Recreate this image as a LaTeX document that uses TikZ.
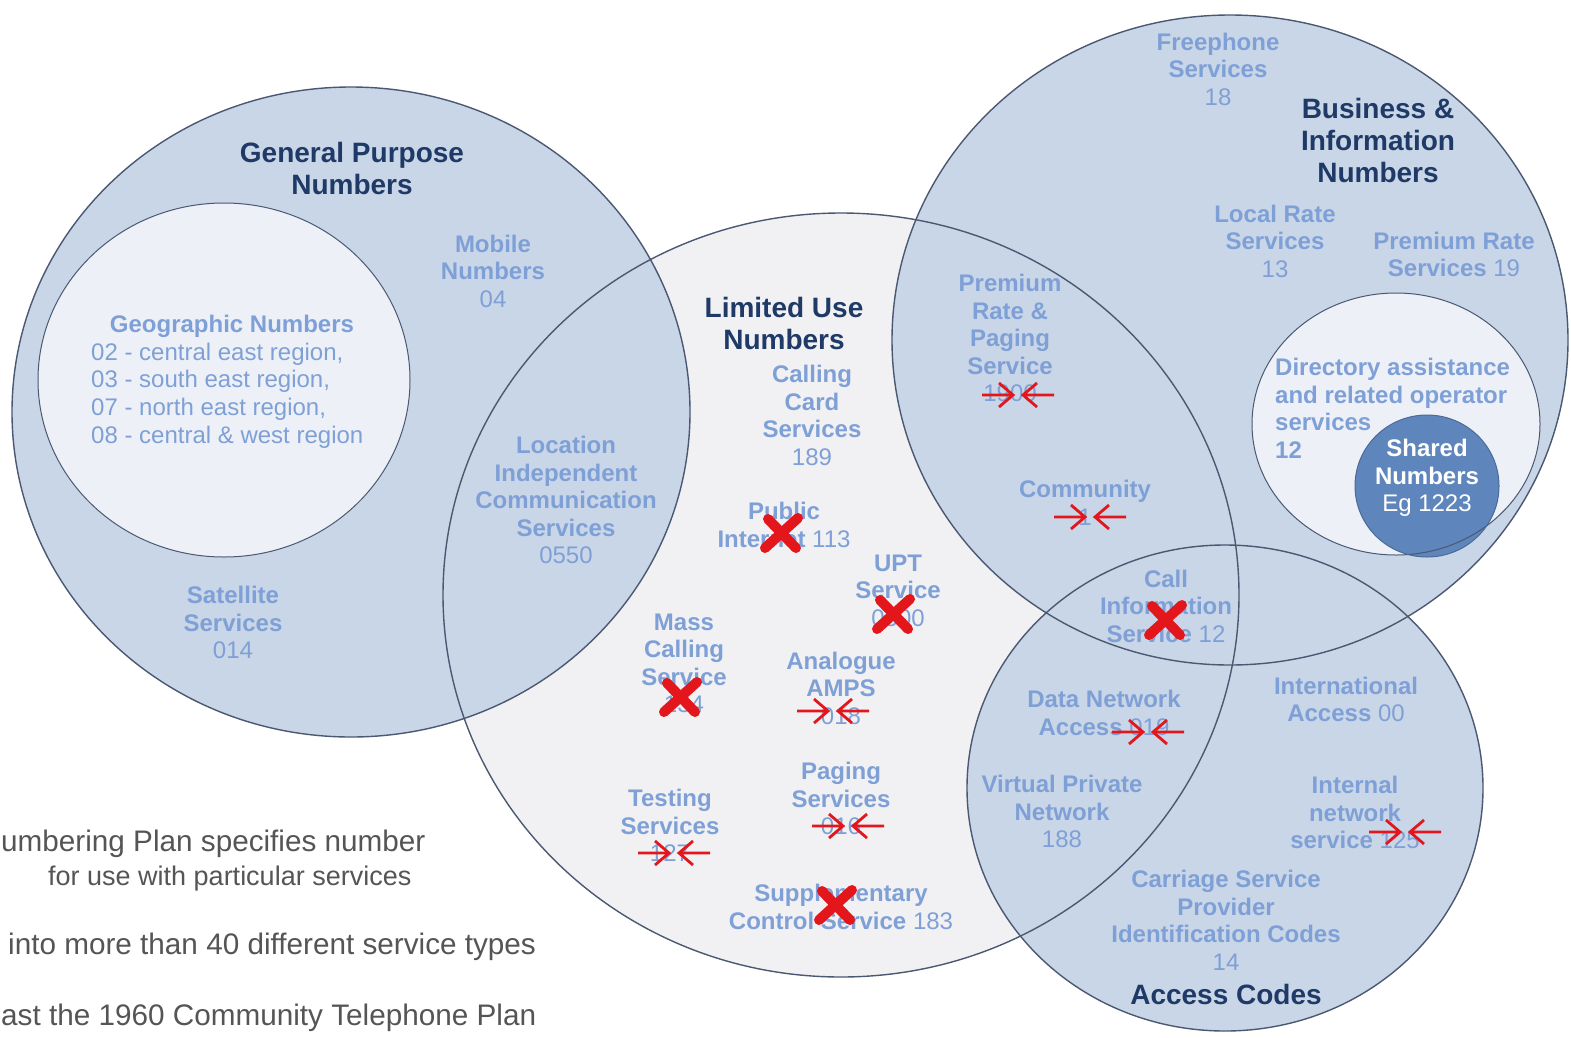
\documentclass[tikz,border=0pt]{standalone}
\usepackage{fontspec}
\setmainfont{Liberation Sans}
\usetikzlibrary{shapes.geometric}
\definecolor{cfill}{HTML}{C9D6E7}
\definecolor{lfill}{HTML}{F1F1F3}
\definecolor{ifill}{HTML}{EDF1F7}
\definecolor{sfill}{HTML}{5E85BC}
\definecolor{edgec}{HTML}{4A5872}
\definecolor{lblc}{HTML}{7EA0D6}
\definecolor{ttlc}{HTML}{1F3A66}
\definecolor{gtxt}{HTML}{555555}
\definecolor{redmk}{HTML}{E3161C}
\tikzset{
  venn/.style={ellipse, inner sep=0pt, outer sep=0pt},
  vline/.style={venn, draw=edgec, line width=1.4pt},
  lab/.style={text=lblc, font=\bfseries\fontsize{24}{27.5}\selectfont, align=center, inner sep=0pt},
  labreg/.style={text=lblc, font=\mdseries\fontsize{24}{27.7}\selectfont, align=left, inner sep=0pt},
  ttl/.style={text=ttlc, font=\bfseries\fontsize{28}{32}\selectfont, align=center, inner sep=0pt},
  note/.style={text=gtxt, font=\fontsize{29.7}{36}\selectfont, anchor=base west, inner sep=0pt},
  redx/.pic={\draw[redmk, line width=10pt, line cap=round] (-16,15) -- (17,-15) (-13,-14) -- (15,15);},
  conv/.pic={
    \draw[redmk, line width=2.8pt, line join=miter] (-36,0) -- (-5,0) (-19,-12) -- (-5,0) -- (-19,12);
    \draw[redmk, line width=2.8pt, line join=miter] (36,0) -- (5,0) (19,-12) -- (5,0) -- (19,12);
  }
}
\begin{document}
\begin{tikzpicture}[x=1pt,y=-1pt]
\useasboundingbox (0,0) rectangle (1571,1037);
\fill[white] (0,0) rectangle (1571,1037);
% fills
\node[venn, fill=lfill, minimum width=796pt, minimum height=764pt] (lu) at (841,595) {};
\node[venn, fill=cfill, minimum width=678pt, minimum height=650pt] (gp) at (351,412) {};
\node[venn, fill=cfill, minimum width=676pt, minimum height=650pt] (bi) at (1230,340) {};
\node[venn, fill=cfill, minimum width=516pt, minimum height=486pt] (ac) at (1225,788) {};
\node[venn, fill=ifill, minimum width=372pt, minimum height=354pt] (geo) at (224,380) {};
\node[venn, fill=ifill, minimum width=288pt, minimum height=262pt] (dir) at (1396,424) {};
\node[venn, fill=sfill, minimum width=144pt, minimum height=142pt] (sh) at (1427,486) {};
% outlines
\node[vline, minimum width=796pt, minimum height=764pt] (luo) at (lu.center) {};
\node[vline, minimum width=678pt, minimum height=650pt] (gpo) at (gp.center) {};
\node[vline, minimum width=676pt, minimum height=650pt] (bio) at (bi.center) {};
\node[vline, minimum width=516pt, minimum height=486pt] (aco) at (ac.center) {};
\node[vline, line width=1pt, minimum width=372pt, minimum height=354pt] (geoo) at (geo.center) {};
\node[vline, line width=1pt, minimum width=288pt, minimum height=262pt] (diro) at (dir.center) {};
\node[vline, line width=1pt, draw=sfill!80!black, minimum width=144pt, minimum height=142pt] (sho) at (sh.center) {};
% titles
\node[ttl] (tgp) at (352,168) {General Purpose\\Numbers};
\node[ttl] (tlu) at (784,323) {Limited Use\\Numbers};
\node[ttl] (tbi) at (1378,140.5) {Business \&\\Information\\Numbers};
\node[ttl] (tac) at (1226,994) {Access Codes};
% general purpose
\node[lab] (mob) at (493,271) {Mobile\\Numbers\\{\mdseries 04}};
\node[lab] (geot) at (232,326) {Geographic Numbers};
\node[labreg, anchor=west] (geol) at (91,395.5) {02 - central east region,\\03 - south east region,\\07 - north east region,\\08 - central \& west region};
\node[lab] (lic) at (566,500) {Location\\Independent\\Communication\\Services\\{\mdseries 0550}};
\node[lab] (sat) at (233,622.5) {Satellite\\Services\\{\mdseries 014}};
% limited use
\node[lab] (ccs) at (812,415.5) {Calling\\Card\\Services\\{\mdseries 189}};
\node[lab] (pin) at (784,525) {Public\\Internet {\mdseries 113}};
\node[lab] (upt) at (898,590.5) {UPT\\Service\\{\mdseries 0500}};
\node[lab] (mcs) at (684,663.5) {Mass\\Calling\\Service\\{\mdseries 134}};
\node[lab] (amps) at (841,688) {Analogue\\AMPS\\{\mdseries 018}};
\node[lab] (pag) at (841,798.5) {Paging\\Services\\{\mdseries 016}};
\node[lab] (tst) at (670,825.5) {Testing\\Services\\{\mdseries 127}};
\node[lab] (scs) at (841,907) {Supplementary\\Control Service {\mdseries 183}};
% business
\node[lab] (prp) at (1010,338) {Premium\\Rate \&\\Paging\\Service\\{\mdseries 1900}};
\node[lab] (com) at (1085,503) {Community\\{\mdseries 1}};
\node[lab] (cis) at (1166,606) {Call\\Information\\Service {\mdseries 12}};
\node[lab] (frs) at (1218,69) {Freephone\\Services\\{\mdseries 18}};
\node[lab] (lrs) at (1275,241) {Local Rate\\Services\\{\mdseries 13}};
\node[lab] (prs) at (1454,254.5) {Premium Rate\\Services {\mdseries 19}};
\node[lab, align=left, anchor=west] (das) at (1275,408.5) {Directory assistance\\and related operator\\services\\12};
\node[lab, text=white] (shn) at (1427,478) {Shared\\Numbers\\{\mdseries Eg 1223}};
% access codes
\node[lab] (dna) at (1104,713) {Data Network\\Access {\mdseries 019}};
\node[lab] (ina) at (1346,699.5) {International\\Access {\mdseries 00}};
\node[lab] (vpn) at (1062,811.5) {Virtual Private\\Network\\{\mdseries 188}};
\node[lab] (ins) at (1355,812.5) {Internal\\network\\service {\mdseries 125}};
\node[lab] (csp) at (1226,920.5) {Carriage Service\\Provider\\Identification Codes\\{\mdseries 14}};
% red marks
\pic (x1) at (781,533) {redx};
\pic (x2) at (893,614) {redx};
\pic (x3) at (680,697) {redx};
\pic (x4) at (835,905) {redx};
\pic (x5) at (1165,620) {redx};
\pic (a1) at (1018,395) {conv};
\pic (a2) at (1090,517) {conv};
\pic (a3) at (833,711) {conv};
\pic (a4) at (848,826) {conv};
\pic (a5) at (674,853) {conv};
\pic (a6) at (1148,732) {conv};
\pic (a7) at (1405,832) {conv};
% notes
\node[note] (n1) at (1,851) {umbering Plan specifies number};
\node[note, font=\fontsize{27}{32}\selectfont] (n2) at (48,885) {for use with particular services};
\node[note] (n3) at (8,954) {into more than 40 different service types};
\node[note] (n4) at (1,1025) {ast the 1960 Community Telephone Plan};
\end{tikzpicture}
\end{document}
